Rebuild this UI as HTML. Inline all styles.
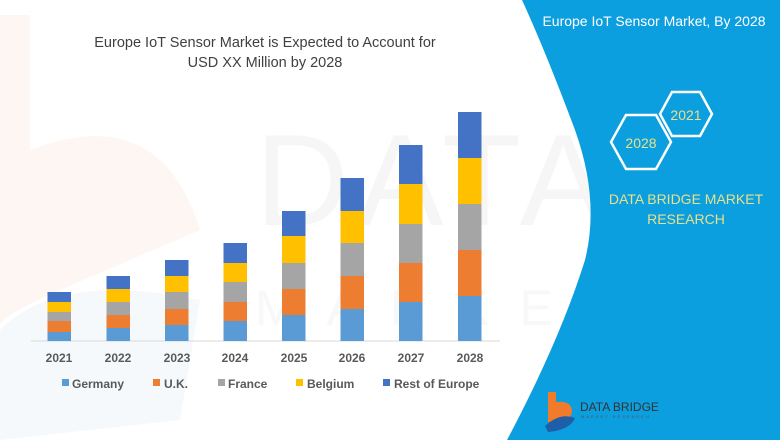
<!DOCTYPE html>
<html><head><meta charset="utf-8"><style>
body{margin:0;width:780px;height:440px;overflow:hidden;background:#fff;font-family:"Liberation Sans",sans-serif;}
</style></head><body>
<svg width="780" height="440" xmlns="http://www.w3.org/2000/svg" style="position:absolute;left:0;top:0">
<!-- faint watermark -->
<text x="255" y="225" font-size="130" fill="#f6f6f6" font-family="Liberation Sans" letter-spacing="8">DATA B</text>
<text x="255" y="325" font-size="50" fill="#f8f8f8" font-family="Liberation Sans" letter-spacing="30">MARKET</text>
<path d="M0,15 L30,15 L30,150 Q160,100 200,230 L60,290 Q-10,320 0,330 Z" fill="#fdf6f2"/>
<path d="M0,330 Q60,270 200,300 L180,420 L0,440 Z" fill="#f5f9fc"/>
<!-- blue panel -->
<path d="M522,0 L780,0 L780,440 L507,440 Q560,340 585,260 Q600,200 575,130 Q545,50 522,0 Z" fill="#0b9fdf"/>
<text x="654" y="26" font-size="14" fill="#fff" text-anchor="middle">Europe IoT Sensor Market, By 2028</text>
<polygon points="672,92 700,92 712,114 700,136 672,136 660,114" fill="none" stroke="#fff" stroke-width="2.5"/>
<text x="686" y="120" font-size="14" fill="#e8e08a" text-anchor="middle">2021</text>
<polygon points="626,115 656,115 671,142 656,169 626,169 611,142" fill="none" stroke="#fff" stroke-width="2.5"/>
<text x="641" y="148" font-size="14" fill="#e8e08a" text-anchor="middle">2028</text>
<text x="686" y="204" font-size="14" fill="#e8e08a" text-anchor="middle">DATA BRIDGE MARKET</text>
<text x="686" y="224" font-size="14" fill="#e8e08a" text-anchor="middle">RESEARCH</text>
<!-- logo -->
<path d="M548,392 L556,392 L556,402 Q572,400 572,412 Q570,422 556,422 L548,422 Z" fill="#f07b2a"/>
<path d="M545,426 Q560,412 575,418 Q570,430 548,432 Z" fill="#1f5ea8"/>
<text x="580" y="411" font-size="12" fill="#333">DATA BRIDGE</text>
<text x="581" y="418" font-size="4" fill="#555" letter-spacing="2">MARKET RESEARCH</text>
<!-- title -->
<text x="265" y="47" font-size="14.5" fill="#404040" text-anchor="middle">Europe IoT Sensor Market is Expected to Account for</text>
<text x="265" y="67" font-size="14.5" fill="#404040" text-anchor="middle">USD XX Million by 2028</text>
<!-- axis -->
<line x1="31" y1="341" x2="500" y2="341" stroke="#d9d9d9" stroke-width="1"/>
<g font-size="12" font-weight="bold" fill="#595959" text-anchor="middle">
<text x="59" y="362">2021</text><text x="118" y="362">2022</text><text x="177" y="362">2023</text><text x="235" y="362">2024</text>
<text x="294" y="362">2025</text><text x="352" y="362">2026</text><text x="411" y="362">2027</text><text x="470" y="362">2028</text>
</g>
<g font-size="12" font-weight="bold" fill="#595959">
<rect x="62" y="379" width="7" height="7" fill="#5b9bd5"/><text x="72" y="388">Germany</text>
<rect x="153" y="379" width="7" height="7" fill="#ed7d31"/><text x="164" y="388">U.K.</text>
<rect x="218" y="379" width="7" height="7" fill="#a5a5a5"/><text x="228" y="388">France</text>
<rect x="296" y="379" width="7" height="7" fill="#ffc000"/><text x="307" y="388">Belgium</text>
<rect x="383" y="379" width="7" height="7" fill="#4472c4"/><text x="394" y="388">Rest of Europe</text>
</g>
<g>
<rect x="47.5" y="332" width="23.5" height="9" fill="#5b9bd5"/><rect x="47.5" y="321" width="23.5" height="11" fill="#ed7d31"/><rect x="47.5" y="312" width="23.5" height="9" fill="#a5a5a5"/><rect x="47.5" y="302" width="23.5" height="10" fill="#ffc000"/><rect x="47.5" y="292" width="23.5" height="10" fill="#4472c4"/>
<rect x="106.5" y="328" width="23.5" height="13" fill="#5b9bd5"/><rect x="106.5" y="315" width="23.5" height="13" fill="#ed7d31"/><rect x="106.5" y="302" width="23.5" height="13" fill="#a5a5a5"/><rect x="106.5" y="289" width="23.5" height="13" fill="#ffc000"/><rect x="106.5" y="276" width="23.5" height="13" fill="#4472c4"/>
<rect x="165" y="325" width="23.5" height="16" fill="#5b9bd5"/><rect x="165" y="309" width="23.5" height="16" fill="#ed7d31"/><rect x="165" y="292" width="23.5" height="17" fill="#a5a5a5"/><rect x="165" y="276" width="23.5" height="16" fill="#ffc000"/><rect x="165" y="260" width="23.5" height="16" fill="#4472c4"/>
<rect x="223.5" y="321" width="23.5" height="20" fill="#5b9bd5"/><rect x="223.5" y="302" width="23.5" height="19" fill="#ed7d31"/><rect x="223.5" y="282" width="23.5" height="20" fill="#a5a5a5"/><rect x="223.5" y="263" width="23.5" height="19" fill="#ffc000"/><rect x="223.5" y="243" width="23.5" height="20" fill="#4472c4"/>
<rect x="282" y="315" width="23.5" height="26" fill="#5b9bd5"/><rect x="282" y="289" width="23.5" height="26" fill="#ed7d31"/><rect x="282" y="263" width="23.5" height="26" fill="#a5a5a5"/><rect x="282" y="236" width="23.5" height="27" fill="#ffc000"/><rect x="282" y="211" width="23.5" height="25" fill="#4472c4"/>
<rect x="340.5" y="309" width="23.5" height="32" fill="#5b9bd5"/><rect x="340.5" y="276" width="23.5" height="33" fill="#ed7d31"/><rect x="340.5" y="243" width="23.5" height="33" fill="#a5a5a5"/><rect x="340.5" y="211" width="23.5" height="32" fill="#ffc000"/><rect x="340.5" y="178" width="23.5" height="33" fill="#4472c4"/>
<rect x="399" y="302" width="23.5" height="39" fill="#5b9bd5"/><rect x="399" y="263" width="23.5" height="39" fill="#ed7d31"/><rect x="399" y="224" width="23.5" height="39" fill="#a5a5a5"/><rect x="399" y="184" width="23.5" height="40" fill="#ffc000"/><rect x="399" y="145" width="23.5" height="39" fill="#4472c4"/>
<rect x="458" y="296" width="23.5" height="45" fill="#5b9bd5"/><rect x="458" y="250" width="23.5" height="46" fill="#ed7d31"/><rect x="458" y="204" width="23.5" height="46" fill="#a5a5a5"/><rect x="458" y="158" width="23.5" height="46" fill="#ffc000"/><rect x="458" y="112" width="23.5" height="46" fill="#4472c4"/>
</g>
</svg>
</body></html>
